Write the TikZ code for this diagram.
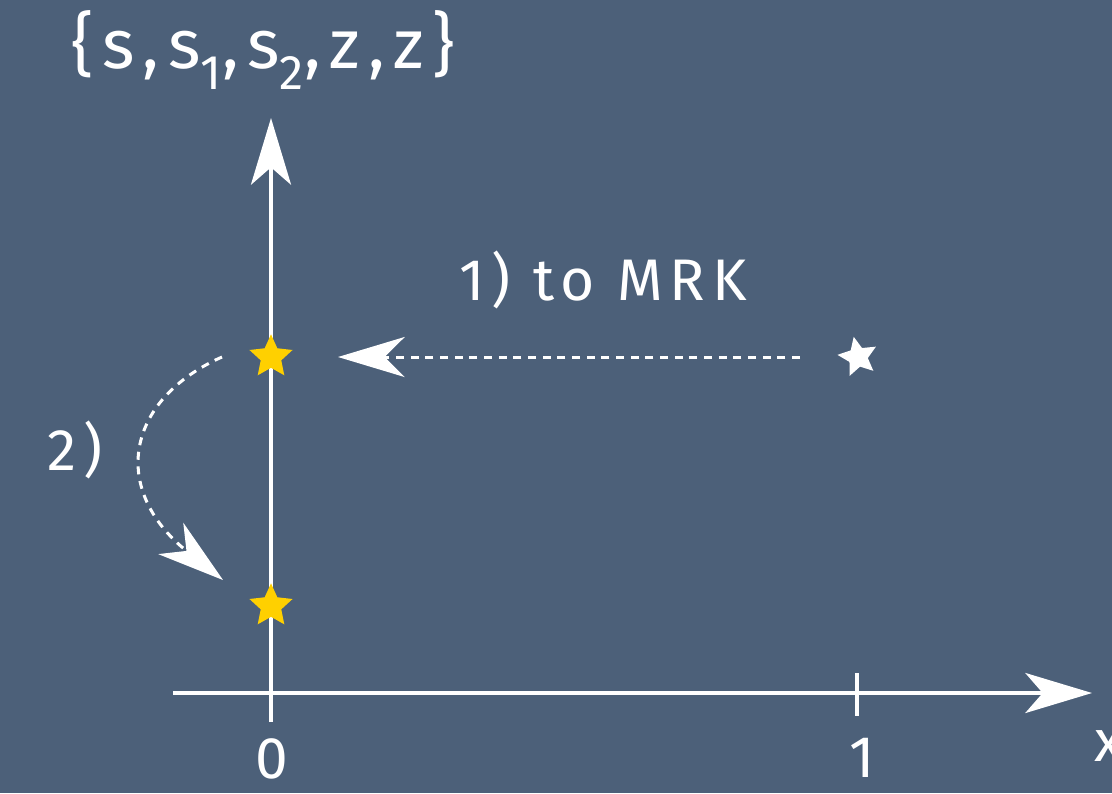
\documentclass[tikz,border=0pt]{standalone}
\usepackage{fontspec}
\setmainfont[LetterSpace=12]{Fira Sans}
\usetikzlibrary{arrows.meta,shapes.geometric}
\definecolor{bgblue}{RGB}{76,96,121}
\definecolor{stargold}{RGB}{255,208,0}

\begin{document}
\begin{tikzpicture}[
  x=0.75pt,y=-0.75pt,
  every node/.style={text=white,inner sep=0pt,font=\fontsize{44}{48}\selectfont},
  axis/.style={draw=white,line width=3pt},
  bigtip/.style={-{Stealth[length=50pt,width=30pt,inset=13pt]}},
  dasharr/.style={draw=white,line width=2.25pt,dash pattern=on 6pt off 5pt,
                  -{Stealth[length=50pt,width=30pt,inset=15pt]}},
  goldstar/.style={star,star points=5,star point ratio=2.1,fill=stargold,
                   minimum size=34pt},
  whitestar/.style={star,star points=5,star point ratio=2.1,fill=white,
                    minimum size=31pt,shape border rotate=12}
]
  \useasboundingbox (0,0) rectangle (1112,793);
  \fill[bgblue] (0,0) rectangle (1112,793);

  % axes
  \coordinate (ybot) at (271,722);
  \coordinate (ytop) at (271,118);
  \coordinate (xleft) at (173,693);
  \coordinate (xright) at (1092,693);
  \coordinate (tick1a) at (857,673);
  \coordinate (tick1b) at (857,716);
  \draw[axis,bigtip] (ybot) -- (ytop);
  \draw[axis,bigtip] (xleft) -- (xright);
  \draw[axis] (tick1a) -- (tick1b);

  \node (lbl0) at (272,759) {0};
  \node (lbl1) at (862,758) {1};
  \node[anchor=west] (lblx) at (1094,746) {x};

  % points
  \node[goldstar]  (sa) at (271,357) {};
  \node[goldstar]  (sb) at (271,606) {};
  \node[whitestar] (sw) at (858,357) {};

  % steps
  \coordinate (d1s) at (800,357);
  \coordinate (d1e) at (338,357);
  \draw[dasharr] (d1s) -- (d1e);
  \coordinate (d2s) at (222,357);
  \coordinate (d2e) at (223,580);
  \draw[dasharr] (d2s) .. controls (125,400) and (110,490) .. (d2e);

  \node (mrk) at (603,280) {1) to MRK};
  \node (two) at (75,450) {2)};
  \node[font=\fontsize{52}{56}\selectfont] (set) at (263,50)
    {\{s,s\textsubscript{1},s\textsubscript{2},z,z\}};
\end{tikzpicture}
\end{document}
